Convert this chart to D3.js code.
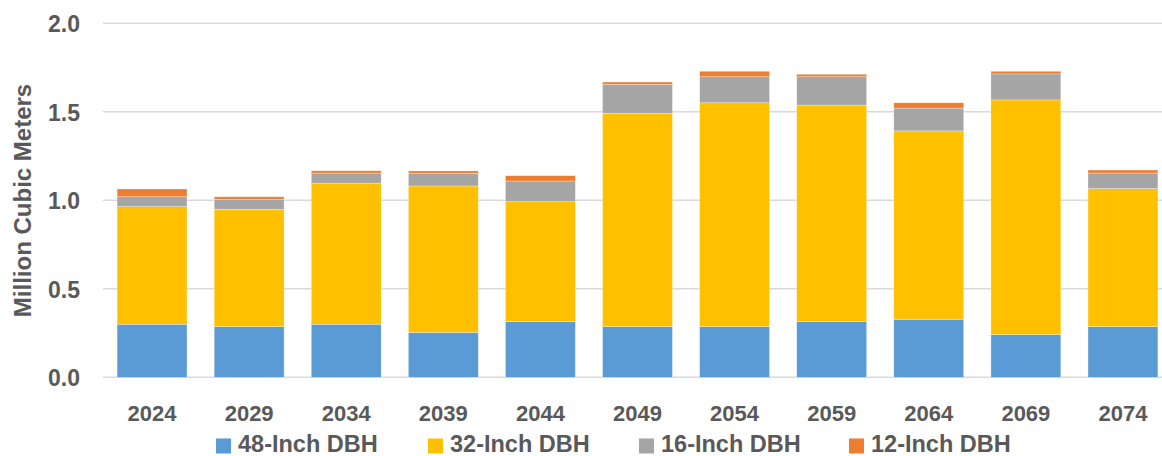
<!DOCTYPE html>
<html>
<head>
<meta charset="utf-8">
<script src="https://cdn.jsdelivr.net/npm/d3@7"></script>
<style>
  html, body { margin: 0; padding: 0; background: #fff; }
  svg { display: block; font-family: "Liberation Sans", Arial, sans-serif; font-weight: bold; }
</style>
</head>
<body>
<svg id="chart" width="1162" height="456"></svg>
<script>
// Harvest volume by diameter class (million cubic metres)
const years = ["2024", "2029", "2034", "2039", "2044", "2049", "2054", "2059", "2064", "2069", "2074"];
const dbh48 = [0.300, 0.286, 0.300, 0.254, 0.314, 0.286, 0.286, 0.314, 0.328, 0.241, 0.286];
const dbh32 = [0.664, 0.663, 0.797, 0.827, 0.678, 1.206, 1.265, 1.224, 1.064, 1.326, 0.780];
const dbh16 = [0.056, 0.057, 0.057, 0.072, 0.117, 0.163, 0.147, 0.160, 0.129, 0.147, 0.088];
const dbh12 = [0.044, 0.014, 0.013, 0.013, 0.030, 0.013, 0.031, 0.014, 0.030, 0.015, 0.017];
const seriesNames = ["48-Inch DBH", "32-Inch DBH", "16-Inch DBH", "12-Inch DBH"];
const seriesColors = ["#5B9BD5", "#FFC000", "#A5A5A5", "#ED7D31"];
const yTicks = [0, 0.5, 1.0, 1.5, 2.0];

const keys = ["d48", "d32", "d16", "d12"];
const rows = years.map((y, i) => ({ year: y, d48: dbh48[i], d32: dbh32[i], d16: dbh16[i], d12: dbh12[i] }));
const stacked = d3.stack().keys(keys)(rows);

const svg = d3.select("#chart");
const textColor = "#595959";

const x = d3.scaleBand().domain(years).range([103.5, 1171.5]).paddingInner(0.28).paddingOuter(0.14);
const y = d3.scaleLinear().domain([0, 2]).range([377.3, 23.3]);

// horizontal gridlines
svg.append("g")
  .selectAll("line")
  .data(yTicks)
  .join("line")
  .attr("x1", 103).attr("x2", 1162)
  .attr("y1", d => y(d)).attr("y2", d => y(d))
  .attr("stroke", "#d9d9d9")
  .attr("stroke-width", 1.4);

// stacked bars
svg.append("g")
  .selectAll("g")
  .data(stacked)
  .join("g")
  .attr("fill", (d, i) => seriesColors[i])
  .selectAll("rect")
  .data(d => d)
  .join("rect")
  .attr("x", d => x(d.data.year))
  .attr("width", x.bandwidth())
  .attr("y", d => y(d[1]))
  .attr("height", d => y(d[0]) - y(d[1]))
  .attr("stroke", "#ffffff")
  .attr("stroke-opacity", 0.5)
  .attr("stroke-width", 0.6);

// y axis labels
const yAxis = svg.append("g")
  .attr("transform", "translate(80,0)")
  .call(d3.axisLeft(y).tickValues(yTicks).tickFormat(d3.format(".1f")).tickSize(0).tickPadding(0));
yAxis.select(".domain").remove();
yAxis.selectAll("text")
  .attr("fill", textColor)
  .style("font-size", "23px")
  .style("font-family", "'Liberation Sans', Arial, sans-serif")
  .style("font-weight", "bold")
  .attr("dy", "0.36em");

// x axis labels
const xAxis = svg.append("g")
  .attr("transform", `translate(0,${y(0)})`)
  .call(d3.axisBottom(x).tickSize(0).tickPadding(0));
xAxis.select(".domain").remove();
xAxis.selectAll("text")
  .attr("fill", textColor)
  .style("font-size", "22px")
  .style("font-family", "'Liberation Sans', Arial, sans-serif")
  .style("font-weight", "bold")
  .attr("y", 43.4)
  .attr("dy", 0);

// y axis title
svg.append("text")
  .attr("transform", "translate(31,200.5) rotate(-90)")
  .attr("text-anchor", "middle")
  .attr("fill", textColor)
  .style("font-size", "24px")
  .text("Million Cubic Meters");

// legend
const legendX = [216, 428, 639, 849];
const legend = svg.append("g")
  .selectAll("g")
  .data(seriesNames)
  .join("g")
  .attr("transform", (d, i) => `translate(${legendX[i]},0)`);
legend.append("rect")
  .attr("x", 0).attr("y", 438.5)
  .attr("width", 15).attr("height", 15)
  .attr("fill", (d, i) => seriesColors[i]);
legend.append("text")
  .attr("x", 22).attr("y", 451.5)
  .attr("fill", textColor)
  .style("font-size", "23.5px")
  .text(d => d);
</script>
</body>
</html>
